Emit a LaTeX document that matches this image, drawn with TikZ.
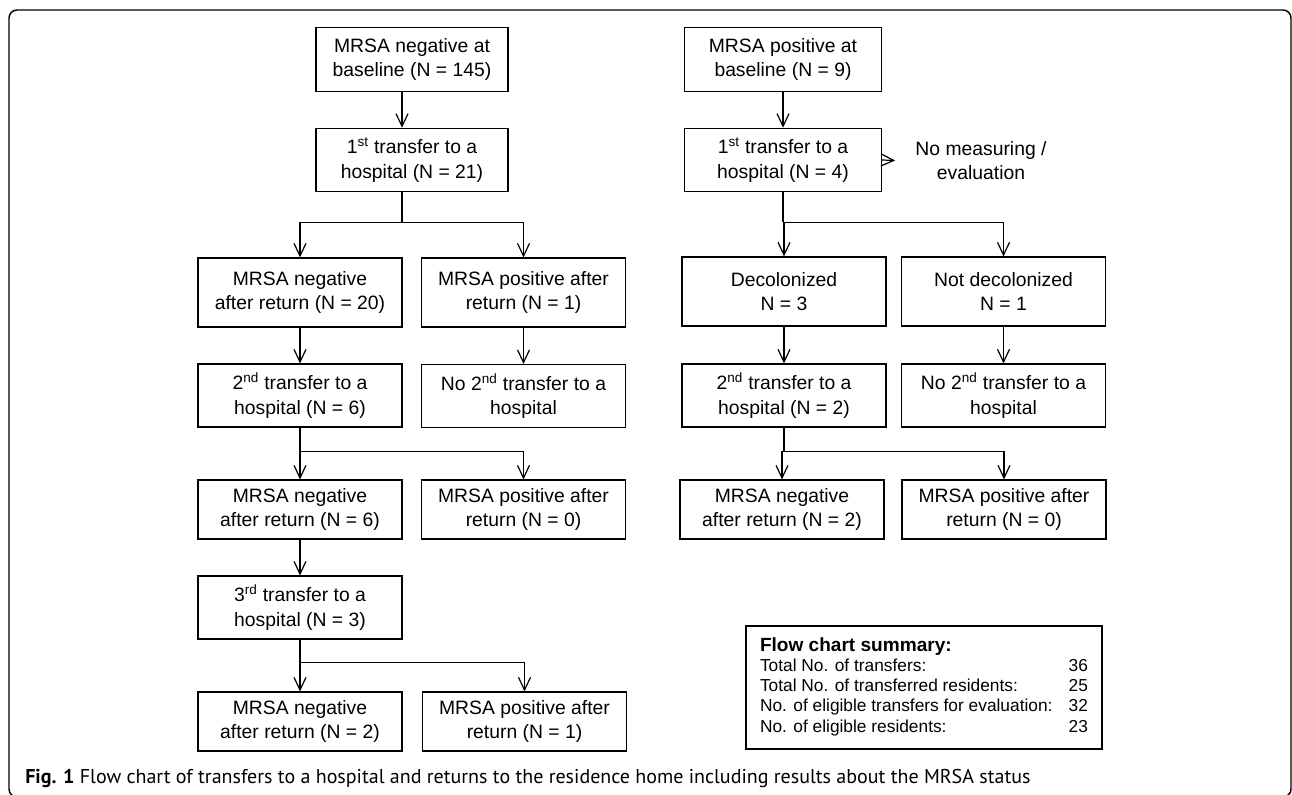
\documentclass[tikz,border=0pt]{standalone}
\usepackage{fontspec}
\setmainfont{Liberation Sans}
\newfontfamily\capfont{PT Sans}
\usetikzlibrary{positioning,calc,arrows.meta}
\tikzset{BOX/.style={rectangle,draw,line width=0.9pt,align=center,inner sep=0pt,font=\fontsize{14.5}{18.5}\selectfont,minimum width=153pt}}
\tikzset{ARROW/.style={line width=0.9pt,-{Straight Barb[length=9.5pt,width=9pt]}}}
\tikzset{LINE/.style={line width=0.9pt}}

\begin{document}
\begin{tikzpicture}[x=0.75pt,y=-0.75pt]

\clip (0,0) rectangle (1292,795);
\draw[line width=1.1pt,rounded corners=6pt] (9,10) rectangle (1291,797);

% negative at baseline
\node[BOX,minimum width=144pt,minimum height=47.5pt] (n_neg_base) at (412,59.5) {MRSA negative at\\baseline (N = 145)};
\node[BOX,minimum width=144pt,minimum height=47.5pt] (n_neg_trans1) at (412,160) {1\textsuperscript{st} transfer to a\\hospital (N = 21)};
\draw[ARROW] ([xshift=-7.5pt]n_neg_base.south) -- ([xshift=-7.5pt]n_neg_trans1.north);

\node[BOX,minimum height=51.75pt] (n_neg_ret1) at (300,292.5) {MRSA negative\\after return (N = 20)};
\node[BOX,minimum height=51.75pt] (n_pos_ret1) at (523.5,292.5) {MRSA positive after\\return (N = 1)};
\coordinate (c_split_neg1) at ($(n_neg_trans1.south)+(-10,30)$);
\draw[LINE] ([xshift=-7.5pt]n_neg_trans1.south) -- (c_split_neg1);
\draw[ARROW] (c_split_neg1) -| (n_neg_ret1.north);
\draw[ARROW] (c_split_neg1) -| (n_pos_ret1.north);

\node[BOX,minimum height=47.25pt] (n_neg_trans2) at (300,395.5) {2\textsuperscript{nd} transfer to a\\hospital (N = 6)};
\node[BOX,minimum height=47.25pt] (n_no_trans2_a) at (523.5,396) {No 2\textsuperscript{nd} transfer to a\\hospital};
\draw[ARROW] (n_neg_ret1) -- (n_neg_trans2);
\draw[ARROW] (n_pos_ret1) -- (n_no_trans2_a);

\node[BOX,minimum height=44.25pt] (n_neg_ret2) at (300,509.5) {MRSA negative\\after return (N = 6)};
\node[BOX,minimum height=44.25pt] (n_pos_ret2) at (523.5,509.5) {MRSA positive after\\return (N = 0)};
\coordinate (c_split_neg2) at ($(n_neg_trans2.south)+(0,24)$);
\draw[LINE] (n_neg_trans2.south) -- (c_split_neg2);
\draw[ARROW] (c_split_neg2) -| (n_neg_ret2.north);
\draw[ARROW] (c_split_neg2) -| (n_pos_ret2.north);

\node[BOX,minimum height=47.25pt] (n_neg_trans3) at (300,607.5) {3\textsuperscript{rd} transfer to a\\hospital (N = 3)};
\draw[ARROW] (n_neg_ret2) -- (n_neg_trans3);

\node[BOX,minimum height=44.25pt] (n_neg_ret3) at (300,721.5) {MRSA negative\\after return (N = 2)};
\node[BOX,minimum height=44.25pt] (n_pos_ret3) at (524.5,721.5) {MRSA positive after\\return (N = 1)};
\coordinate (c_split_neg3) at ($(n_neg_trans3.south)+(0,23)$);
\draw[LINE] (n_neg_trans3.south) -- (c_split_neg3);
\draw[ARROW] (c_split_neg3) -| (n_neg_ret3.north);
\draw[ARROW] (c_split_neg3) -| (n_pos_ret3.north);

% positive at baseline
\node[BOX,minimum width=147.75pt,minimum height=47.5pt] (n_pos_base) at (783,59.5) {MRSA positive at\\baseline (N = 9)};
\node[BOX,minimum width=147.75pt,minimum height=47.5pt] (n_pos_trans1) at (783,160) {1\textsuperscript{st} transfer to a\\hospital (N = 4)};
\draw[ARROW] (n_pos_base) -- (n_pos_trans1);

\node[align=center,font=\fontsize{14.5}{18.5}\selectfont,inner sep=0pt] (n_noeval) at (981,160.5) {No measuring /\\evaluation};
\draw[ARROW] (n_pos_trans1.east) -- ([xshift=-15pt]n_noeval.west);

\node[BOX,minimum height=51.75pt] (n_decol) at (784,291.5) {Decolonized\\N = 3};
\node[BOX,minimum height=51.75pt] (n_notdecol) at (1003.5,291.5) {Not decolonized\\N = 1};
\coordinate (c_split_pos1) at ($(n_pos_trans1.south)+(0,30)$);
\draw[LINE] (n_pos_trans1.south) -- (c_split_pos1);
\draw[ARROW] (c_split_pos1) -| (n_decol.north);
\draw[ARROW] (c_split_pos1) -| (n_notdecol.north);

\node[BOX,minimum height=47.25pt] (n_pos_trans2) at (784,395.5) {2\textsuperscript{nd} transfer to a\\hospital (N = 2)};
\node[BOX,minimum height=47.25pt] (n_no_trans2_b) at (1003.5,395.5) {No 2\textsuperscript{nd} transfer to a\\hospital};
\draw[ARROW] (n_decol) -- (n_pos_trans2);
\draw[ARROW] (n_notdecol) -- (n_no_trans2_b);

\node[BOX,minimum height=44.25pt] (n_pos_neg_ret) at (782,509.5) {MRSA negative\\after return (N = 2)};
\node[BOX,minimum height=44.25pt] (n_pos_pos_ret) at (1004,509.5) {MRSA positive after\\return (N = 0)};
\coordinate (c_split_pos2) at ($(n_pos_trans2.south)+(0,24)$);
\draw[LINE] (n_pos_trans2.south) -- (c_split_pos2);
\draw[ARROW] (c_split_pos2) -| (n_pos_neg_ret.north);
\draw[ARROW] (c_split_pos2) -| (n_pos_pos_ret.north);

% summary
\node[draw,line width=0.9pt,inner sep=0pt,minimum width=267pt,minimum height=92.25pt,font=\fontsize{13}{15.2}\selectfont] (n_summary) at (924,687.5) {%
\begin{tabular*}{246pt}{@{}l@{\extracolsep{\fill}}r@{}}
\multicolumn{2}{@{}l}{\fontsize{14.3}{17}\selectfont\bfseries Flow chart summary:}\\
Total No. of transfers: & 36\\
Total No. of transferred residents: & 25\\
No. of eligible transfers for evaluation: & 32\\
No. of eligible residents: & 23
\end{tabular*}};

\node[anchor=base west,inner sep=0pt,font=\capfont\fontsize{15}{18}\selectfont] (n_caption) at (25,783) {\textbf{Fig. 1} Flow chart of transfers to a hospital and returns to the residence home including results about the MRSA status};

\end{tikzpicture}
\end{document}
